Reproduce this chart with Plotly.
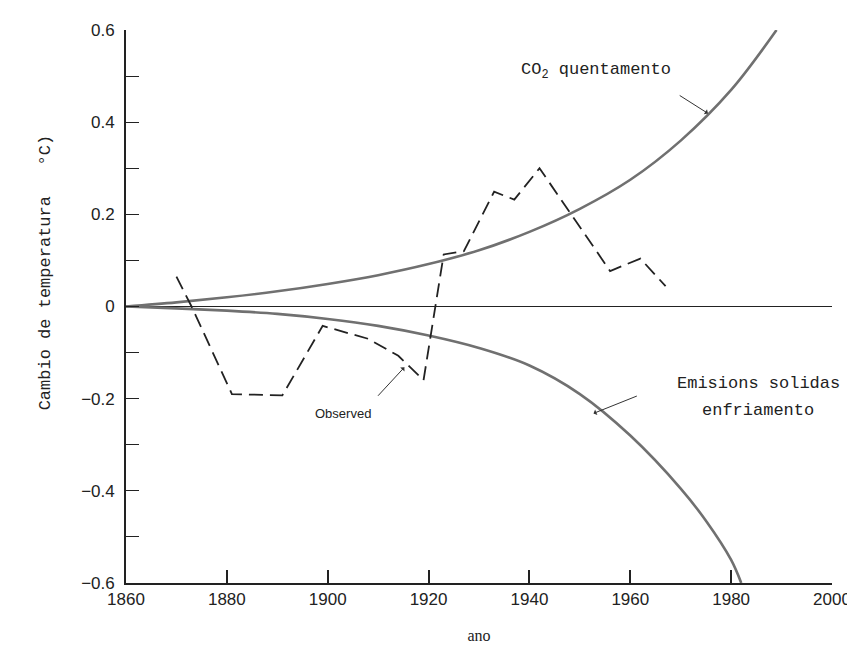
import plotly.graph_objects as go

# CO2 warming curve
co2_years = [1860, 1870, 1880, 1890, 1900, 1910, 1920, 1930, 1940, 1950, 1960, 1970, 1980, 1989]
co2_vals = [0.0, 0.009, 0.02, 0.033, 0.049, 0.068, 0.092, 0.122, 0.162, 0.212, 0.275, 0.36, 0.47, 0.60]

# Solid emissions cooling curve
cool_years = [1860, 1870, 1880, 1890, 1900, 1910, 1920, 1930, 1940, 1950, 1960, 1970, 1975, 1980, 1982]
cool_vals = [0.0, -0.004, -0.009, -0.016, -0.027, -0.042, -0.063, -0.09, -0.128, -0.19, -0.28, -0.395, -0.465, -0.55, -0.6]

# Observed temperature change (dashed)
obs_years = [1870, 1873, 1881, 1891, 1899, 1908, 1914, 1916, 1919, 1923, 1927, 1933, 1937, 1942, 1956, 1962, 1967]
obs_vals = [0.065, 0.0, -0.19, -0.193, -0.042, -0.07, -0.107, -0.128, -0.16, 0.113, 0.12, 0.249, 0.232, 0.30, 0.077, 0.104, 0.044]

zero_years = [1860, 2000]
zero_vals = [0, 0]

x_ticks = [1860, 1880, 1900, 1920, 1940, 1960, 1980, 2000]
y_ticks = [0.6, 0.4, 0.2, 0, -0.2, -0.4, -0.6]
y_ticktext = ["0.6", "0.4", "0.2", "0", "\u22120.2", "\u22120.4", "\u22120.6"]

fig = go.Figure()
fig.add_trace(go.Scatter(x=zero_years, y=zero_vals, mode="lines",
                         line=dict(color="#222", width=1.2), hoverinfo="skip"))
fig.add_trace(go.Scatter(x=co2_years, y=co2_vals, mode="lines", line_shape="spline",
                         line=dict(color="#707070", width=2.6)))
fig.add_trace(go.Scatter(x=cool_years, y=cool_vals, mode="lines", line_shape="spline",
                         line=dict(color="#707070", width=2.6)))
fig.add_trace(go.Scatter(x=obs_years, y=obs_vals, mode="lines",
                         line=dict(color="#222", width=1.8, dash="14px,7px")))

mono = "Liberation Mono, Courier New, monospace"
ann = [
    dict(x=1968.5, y=0.51, text="CO<sub>2</sub> quentamento", xanchor="right", yanchor="middle",
         showarrow=False, font=dict(family=mono, size=17, color="#222")),
    dict(x=1975.4, y=0.419, ax=1969.5, ay=0.46, axref="x", ayref="y", text="",
         showarrow=True, arrowhead=1, arrowsize=1, arrowwidth=1, arrowcolor="#333"),
    dict(x=1968.9, y=-0.167, text="Emisions solidas", xanchor="left", yanchor="middle",
         showarrow=False, font=dict(family=mono, size=17, color="#222")),
    dict(x=1973.8, y=-0.225, text="enfriamento", xanchor="left", yanchor="middle",
         showarrow=False, font=dict(family=mono, size=17, color="#222")),
    dict(x=1952.7, y=-0.232, ax=1961.6, ay=-0.193, axref="x", ayref="y", text="",
         showarrow=True, arrowhead=1, arrowsize=1, arrowwidth=1, arrowcolor="#333"),
    dict(x=1903, y=-0.232, text="Observed", xanchor="center", yanchor="middle",
         showarrow=False, font=dict(family="Liberation Sans, Arial", size=13, color="#222")),
    dict(x=1915.2, y=-0.132, ax=1909.7, ay=-0.197, axref="x", ayref="y", text="",
         showarrow=True, arrowhead=1, arrowsize=1, arrowwidth=1, arrowcolor="#333"),
    dict(x=-0.131, y=0.56, xref="paper", yref="paper",
         text="Cambio de temperatura\u00a0\u00a0\u00a0\u00b0C)", textangle=-90,
         showarrow=False, font=dict(family=mono, size=17, color="#222")),
]

fig.update_layout(
    width=855, height=646,
    margin=dict(l=118, r=27, t=22, b=67),
    plot_bgcolor="white", paper_bgcolor="white",
    showlegend=False,
    annotations=ann,
    xaxis=dict(range=[1860, 2000], tickvals=x_ticks, ticks="inside", ticklen=13,
               tickwidth=1.5, tickcolor="#222", showline=True, linecolor="#222", linewidth=1.8,
               showgrid=False, zeroline=False,
               tickfont=dict(family="Liberation Sans, Arial", size=17, color="#222"),
               title=dict(text="ano", font=dict(family="Liberation Serif, serif", size=16, color="#222"),
                          standoff=22)),
    yaxis=dict(range=[-0.6, 0.6], tickvals=y_ticks, ticktext=y_ticktext, ticks="inside",
               ticklen=13, tickwidth=1.2, tickcolor="#222", showline=True, linecolor="#222",
               linewidth=1.8, showgrid=False, zeroline=False, ticklabelstandoff=6,
               minor=dict(dtick=0.1, tick0=0, ticks="inside", ticklen=13, tickwidth=1.2, tickcolor="#222"),
               tickfont=dict(family="Liberation Sans, Arial", size=17, color="#222")),
)

fig.write_html("out.html")
